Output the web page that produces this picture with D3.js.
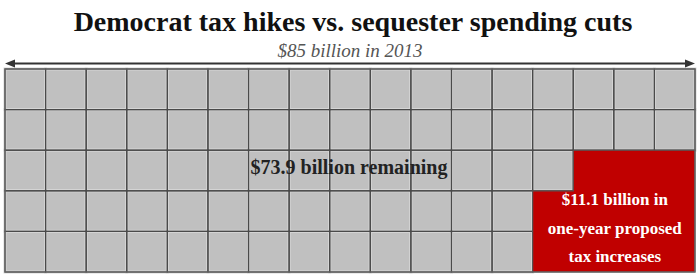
<!DOCTYPE html>
<html>
<head>
<meta charset="utf-8">
<script src="https://cdn.jsdelivr.net/npm/d3@7"></script>
<style>
  html, body { margin: 0; padding: 0; background: #fff; }
  svg { display: block; }
</style>
</head>
<body>
<svg id="chart" width="700" height="280"></svg>
<script>
// ---- data ----
const title = "Democrat tax hikes vs. sequester spending cuts";
const subtitle = "$85 billion in 2013";
const totalBillions = 85;           // one cell per billion
const gridRows = 5;
const taxBillions = 11.1;
const remainingBillions = 73.9;
const redCellsPerRow = [0, 0, 3, 4, 4];   // red cells counted from the right, top row first
const remainingLabel = "$73.9 billion remaining";
const taxLabelLines = ["$11.1 billion in", "one-year proposed", "tax increases"];

// ---- layout ----
const W = 700, H = 280;
const gridLeft = 5, gridRight = 695, gridTop = 69, gridBottom = 272;
const gridCols = Math.round(totalBillions / gridRows);

const svg = d3.select("#chart");
const serif = "'Liberation Serif', 'Times New Roman', serif";

const x = d3.scaleBand().domain(d3.range(gridCols)).range([gridLeft, gridRight]).padding(0);
const y = d3.scaleBand().domain(d3.range(gridRows)).range([gridTop, gridBottom]).padding(0);

const cells = [];
for (let r = 0; r < gridRows; r++) {
  for (let c = 0; c < gridCols; c++) {
    cells.push({ r, c, red: c >= gridCols - redCellsPerRow[r] });
  }
}

// gray cells
const g = svg.append("g");
g.selectAll("rect.cell")
  .data(cells.filter(d => !d.red))
  .join("rect")
  .attr("class", "cell")
  .attr("x", d => x(d.c))
  .attr("y", d => y(d.r))
  .attr("width", x.bandwidth())
  .attr("height", y.bandwidth())
  .attr("fill", "#c0c0c0")
  .attr("stroke", "#d6d6d6")
  .attr("stroke-width", 3);

g.selectAll("rect.cellline")
  .data(cells.filter(d => !d.red))
  .join("rect")
  .attr("class", "cellline")
  .attr("x", d => x(d.c))
  .attr("y", d => y(d.r))
  .attr("width", x.bandwidth())
  .attr("height", y.bandwidth())
  .attr("fill", "none")
  .attr("stroke", "#4a4a4a")
  .attr("stroke-width", 1.2);

// red region as one shape (no internal lines)
const redPts = [];
redCellsPerRow.forEach((n, r) => {
  if (n > 0) {
    const left = x(gridCols - n);
    redPts.push([left, y(r)], [left, y(r) + y.bandwidth()]);
  }
});
const firstRed = redPts[0];
const redPoly = [[gridRight, firstRed[1]]].concat(redPts, [[gridRight, gridBottom]]);
g.append("path")
  .attr("d", d3.line()(redPoly) + "Z")
  .attr("fill", "#c00000")
  .attr("stroke", "#555")
  .attr("stroke-width", 1.2);

g.append("rect")
  .attr("x", gridLeft).attr("y", gridTop)
  .attr("width", gridRight - gridLeft).attr("height", gridBottom - gridTop)
  .attr("fill", "none").attr("stroke", "#666").attr("stroke-width", 1.2);

// title
svg.append("text")
  .attr("x", 353).attr("y", 31)
  .attr("text-anchor", "middle")
  .attr("font-family", serif)
  .attr("font-weight", "bold")
  .attr("font-size", 28)
  .attr("fill", "#111")
  .text(title);

svg.append("text")
  .attr("x", W / 2).attr("y", 57)
  .attr("text-anchor", "middle")
  .attr("font-family", serif)
  .attr("font-style", "italic")
  .attr("font-size", 19)
  .attr("fill", "#555")
  .text(subtitle);

// double-headed arrow
const defs = svg.append("defs");
["start", "end"].forEach(k => {
  defs.append("marker")
    .attr("id", "arrow-" + k)
    .attr("viewBox", "0 0 10 10")
    .attr("refX", 5).attr("refY", 5)
    .attr("markerWidth", 5).attr("markerHeight", 5)
    .attr("orient", k === "start" ? "auto-start-reverse" : "auto")
    .append("path").attr("d", "M0,1 L10,5 L0,9 Z").attr("fill", "#333");
});
svg.append("line")
  .attr("x1", gridLeft + 5).attr("x2", gridRight - 5)
  .attr("y1", 63.5).attr("y2", 63.5)
  .attr("stroke", "#333").attr("stroke-width", 2)
  .attr("marker-start", "url(#arrow-start)")
  .attr("marker-end", "url(#arrow-end)");

// labels
svg.append("text")
  .attr("x", 349).attr("y", 174)
  .attr("text-anchor", "middle")
  .attr("font-family", serif)
  .attr("font-weight", "bold")
  .attr("font-size", 20)
  .attr("fill", "#222")
  .text(remainingLabel);

const redLeft = x(gridCols - d3.max(redCellsPerRow));
const tx = (redLeft + gridRight) / 2 + 1;
svg.append("g").selectAll("text")
  .data(taxLabelLines)
  .join("text")
  .attr("x", tx)
  .attr("y", (d, i) => 205 + i * 28.5)
  .attr("text-anchor", "middle")
  .attr("font-family", serif)
  .attr("font-weight", "bold")
  .attr("font-size", 17)
  .attr("fill", "#fff")
  .text(d => d);
</script>
</body>
</html>
